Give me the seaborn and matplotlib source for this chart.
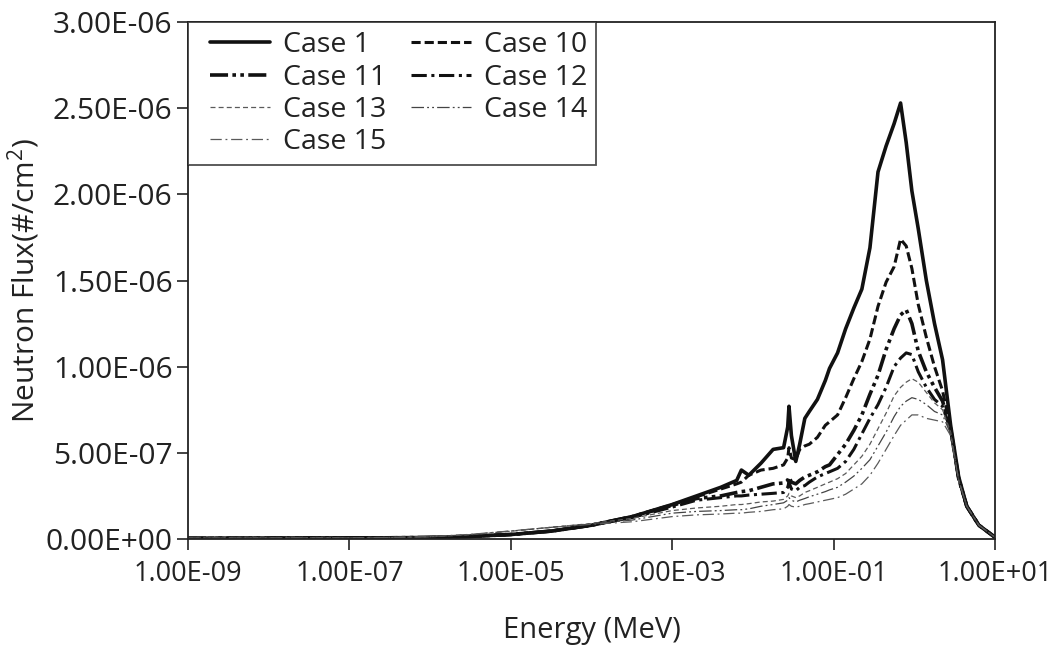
import numpy as np
import pandas as pd
import matplotlib
matplotlib.use("Agg")
import matplotlib.pyplot as plt
from matplotlib.ticker import FuncFormatter, FixedLocator, NullLocator
from matplotlib.legend_handler import HandlerLine2D
import seaborn as sns

# ---- data (flux in units of 1e-6 #/cm^2) ----
energy_mev = [1.0e-9, 1.0e-8, 1.0e-7, 3.2e-7, 1.0e-6, 3.2e-6, 1.0e-5, 3.2e-5,
              1.0e-4, 3.2e-4, 1.0e-3, 2.0e-3, 4.0e-3, 6.3e-3, 7.2e-3, 8.9e-3,
              1.26e-2, 1.78e-2, 2.4e-2, 2.7e-2, 2.8e-2, 3.0e-2, 3.4e-2, 3.8e-2,
              4.4e-2, 5.0e-2, 6.3e-2, 7.9e-2, 8.9e-2, 0.112, 0.141, 0.178,
              0.224, 0.282, 0.355, 0.447, 0.562, 0.676, 0.794, 0.933,
              1.12, 1.41, 1.78, 2.24, 2.82, 3.55, 4.47, 6.31, 10.0]

case1 = [0.004, 0.005, 0.006, 0.007, 0.009, 0.015, 0.026, 0.046, 0.08, 0.13,
         0.20, 0.25, 0.30, 0.34, 0.40, 0.37, 0.44, 0.52, 0.53, 0.65, 0.77,
         0.60, 0.45, 0.55, 0.70, 0.74, 0.81, 0.92, 0.99, 1.08, 1.22, 1.34,
         1.45, 1.69, 2.13, 2.28, 2.41, 2.53, 2.30, 2.02, 1.80, 1.50, 1.25,
         1.04, 0.66, 0.36, 0.19, 0.08, 0.01]
case10 = [0.004, 0.005, 0.006, 0.007, 0.009, 0.015, 0.026, 0.046, 0.08, 0.13,
          0.20, 0.245, 0.29, 0.32, 0.33, 0.37, 0.40, 0.41, 0.43, 0.47, 0.53,
          0.47, 0.46, 0.52, 0.54, 0.55, 0.59, 0.66, 0.68, 0.72, 0.82, 0.93,
          1.03, 1.16, 1.35, 1.49, 1.58, 1.74, 1.70, 1.57, 1.36, 1.17, 1.00,
          0.86, 0.64, 0.35, 0.19, 0.08, 0.01]
case11 = [0.004, 0.005, 0.006, 0.007, 0.009, 0.015, 0.026, 0.046, 0.08, 0.13,
          0.195, 0.235, 0.25, 0.27, 0.275, 0.28, 0.30, 0.32, 0.325, 0.34, 0.36,
          0.33, 0.32, 0.34, 0.36, 0.37, 0.39, 0.42, 0.43, 0.49, 0.55, 0.63,
          0.72, 0.84, 0.95, 1.10, 1.22, 1.30, 1.33, 1.25, 1.09, 0.97, 0.88,
          0.80, 0.64, 0.35, 0.19, 0.08, 0.01]
case12 = [0.004, 0.005, 0.006, 0.007, 0.009, 0.015, 0.026, 0.046, 0.08, 0.125,
          0.185, 0.225, 0.24, 0.25, 0.25, 0.255, 0.26, 0.265, 0.27, 0.30, 0.33,
          0.29, 0.28, 0.30, 0.31, 0.33, 0.36, 0.38, 0.39, 0.41, 0.45, 0.52,
          0.61, 0.70, 0.78, 0.88, 1.00, 1.05, 1.08, 1.07, 0.97, 0.88, 0.81,
          0.77, 0.63, 0.35, 0.19, 0.08, 0.01]
case13 = [0.005, 0.006, 0.007, 0.009, 0.013, 0.025, 0.045, 0.068, 0.09, 0.12,
          0.165, 0.18, 0.19, 0.20, 0.20, 0.205, 0.215, 0.22, 0.23, 0.25, 0.265,
          0.25, 0.24, 0.25, 0.27, 0.28, 0.30, 0.32, 0.33, 0.35, 0.38, 0.43,
          0.48, 0.55, 0.64, 0.73, 0.83, 0.88, 0.91, 0.93, 0.91, 0.85, 0.79,
          0.75, 0.62, 0.34, 0.19, 0.08, 0.01]
case14 = [0.005, 0.006, 0.007, 0.009, 0.013, 0.026, 0.046, 0.068, 0.088, 0.11,
          0.15, 0.16, 0.165, 0.17, 0.17, 0.175, 0.19, 0.20, 0.21, 0.225, 0.24,
          0.225, 0.215, 0.225, 0.235, 0.245, 0.26, 0.275, 0.285, 0.30, 0.33,
          0.365, 0.41, 0.46, 0.54, 0.62, 0.71, 0.77, 0.80, 0.82, 0.81, 0.78,
          0.74, 0.72, 0.61, 0.34, 0.19, 0.08, 0.01]
case15 = [0.005, 0.006, 0.007, 0.009, 0.014, 0.027, 0.047, 0.068, 0.085, 0.10,
          0.13, 0.14, 0.145, 0.15, 0.15, 0.155, 0.16, 0.17, 0.175, 0.19, 0.20,
          0.19, 0.185, 0.19, 0.20, 0.205, 0.215, 0.225, 0.23, 0.24, 0.26, 0.29,
          0.32, 0.37, 0.44, 0.52, 0.60, 0.66, 0.69, 0.72, 0.72, 0.70, 0.69,
          0.68, 0.60, 0.34, 0.19, 0.08, 0.01]

case_names = ["Case 1", "Case 10", "Case 11", "Case 12", "Case 13", "Case 14", "Case 15"]
case_values = [case1, case10, case11, case12, case13, case14, case15]
flux_unit = 1e-6

x_ticks = [1e-9, 1e-7, 1e-5, 1e-3, 1e-1, 1e1]
y_ticks = [0, 5e-7, 1e-6, 1.5e-6, 2e-6, 2.5e-6, 3e-6]

# ---- styles ----
styles = {
    "Case 1":  dict(color="#111111", lw=2.6, ls="-"),
    "Case 10": dict(color="#111111", lw=2.2, ls=(0, (3.0, 1.3))),
    "Case 11": dict(color="#111111", lw=2.6, ls=(0, (5, 1.2, 1.0, 1.2, 1.0, 1.2))),
    "Case 12": dict(color="#111111", lw=2.2, ls=(0, (5, 1.5, 1.0, 1.5))),
    "Case 13": dict(color="#5a5a5a", lw=0.9, ls=(0, (4, 2.5))),
    "Case 14": dict(color="#444444", lw=0.9, ls=(0, (10, 2.5, 1.5, 2.5, 1.5, 2.5))),
    "Case 15": dict(color="#5a5a5a", lw=0.9, ls=(0, (9, 3, 1.5, 3))),
}

sns.set_style("ticks")
plt.rcParams["font.family"] = ["Open Sans", "DejaVu Sans"]
plt.rcParams["mathtext.fontset"] = "custom"
plt.rcParams["mathtext.rm"] = "Open Sans"

fig = plt.figure(figsize=(10.56, 6.52), dpi=100)
ax = fig.add_axes([188 / 1056, 1 - 539 / 652, (995 - 188) / 1056, (539 - 22) / 652])

handles = {}
for name, vals in zip(case_names, case_values):
    df = pd.DataFrame({"Energy": energy_mev, "Flux": np.array(vals) * flux_unit})
    st = styles[name]
    sns.lineplot(data=df, x="Energy", y="Flux", ax=ax, color=st["color"],
                 linewidth=st["lw"], linestyle=st["ls"], sort=False,
                 estimator=None, label=name, legend=False)
    handles[name] = ax.lines[-1]

ax.set_xscale("log")
ax.set_xlim(1e-9, 10)
ax.set_ylim(0, 3e-6)
ax.xaxis.set_major_locator(FixedLocator(x_ticks))
ax.xaxis.set_minor_locator(NullLocator())
ax.yaxis.set_major_locator(FixedLocator(y_ticks))
ax.xaxis.set_major_formatter(FuncFormatter(lambda v, p: f"{v:.2E}"))
ax.yaxis.set_major_formatter(FuncFormatter(lambda v, p: f"{v:.2E}"))

for s in ax.spines.values():
    s.set_color("#222222")
    s.set_linewidth(1.3)
ax.tick_params(axis="both", direction="out", length=8, width=1.2, color="#222222",
               labelcolor="#222222")
ax.tick_params(axis="y", labelsize=21.5, pad=3)
ax.tick_params(axis="x", labelsize=19.5, pad=7)

ax.set_xlabel("Energy (MeV)", fontsize=21, color="#222222", labelpad=20)
ax.set_ylabel("Neutron Flux(#/cm$^2$)", fontsize=21.5, color="#222222", labelpad=2)

order = ["Case 1", "Case 11", "Case 13", "Case 15", "Case 10", "Case 12", "Case 14"]
hmap = {handles[n]: HandlerLine2D(xpad=0.45) for n in order}
leg = ax.legend([handles[n] for n in order], order, ncol=2, loc="upper left",
                bbox_to_anchor=(0, 1), borderaxespad=0, frameon=True, fancybox=False,
                fontsize=20.5, handlelength=2.55, handletextpad=0.45,
                columnspacing=0.45, labelspacing=0.155, borderpad=0.32,
                handler_map=hmap)
leg.get_frame().set_edgecolor("#222222")
leg.get_frame().set_linewidth(1.3)
for t in leg.get_texts():
    t.set_color("#222222")

fig.savefig("out.png", dpi=100)
